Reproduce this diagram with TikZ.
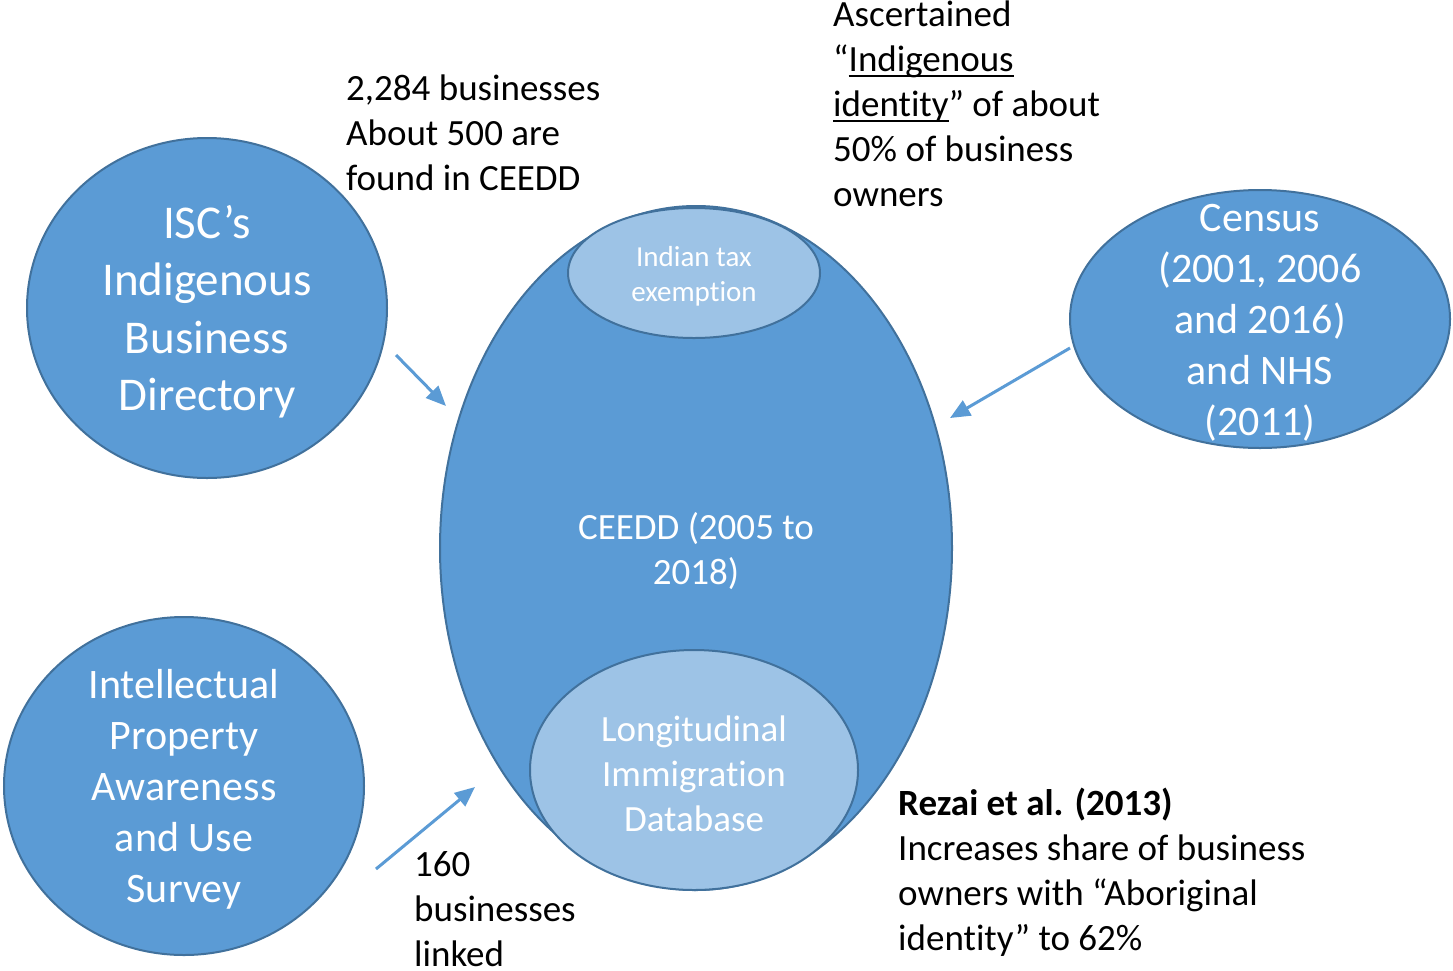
\documentclass[tikz,border=0pt]{standalone}
\usepackage{fontspec}
\setmainfont{Carlito}[Ligatures=NoCommon]
\usetikzlibrary{shapes.geometric,arrows.meta}
\definecolor{blueFill}{RGB}{91,155,213}
\definecolor{blueEdge}{RGB}{65,113,156}
\definecolor{blueLight}{RGB}{157,195,230}
% underline with a heavier rule
\newcommand\ulthick[1]{\setbox0\hbox{#1}\rlap{\raisebox{-6pt}{\rule{\wd0}{2.2pt}}}\box0}
\begin{document}
\begin{tikzpicture}[x=1pt,y=-1pt,
  blob/.style={ellipse, draw=blueEdge, line width=2pt, fill=blueFill, inner sep=0pt},
  subblob/.style={ellipse, draw=blueEdge, line width=2pt, fill=blueLight, inner sep=0pt},
  intext/.style={text=white, align=center, inner sep=0pt, yshift=-3.5pt},
  note/.style={text=black, align=left, inner sep=0pt, anchor=base west,
    font=\fontsize{37}{45}\selectfont},
  link/.style={draw=blueFill, line width=3pt, -{Triangle[length=20pt,width=17pt]}}]
\useasboundingbox (0,0) rectangle (1453,970);

% central data set with its two subsets
\node[blob, minimum width=512pt, minimum height=684pt] (ceedd) at (696,548) {};
\node[subblob, minimum width=252pt, minimum height=130pt] (tax) at (694,273) {};
\node[subblob, minimum width=328pt, minimum height=240pt] (lid) at (694,770) {};
\node[intext, font=\fontsize{37}{45}\selectfont] at (ceedd) {CEEDD (2005 to\\2018)};
\node[intext, font=\fontsize{29}{35}\selectfont] at (tax) {Indian tax\\exemption};
\node[intext, font=\fontsize{37}{45}\selectfont] at (lid) {Longitudinal\\Immigration\\Database};

% linked sources
\node[blob, minimum width=360pt, minimum height=340pt] (isc) at (207,308) {};
\node[intext, font=\fontsize{47}{57.5}\selectfont] at (isc) {ISC’s\\Indigenous\\Business\\Directory};
\node[blob, minimum width=360pt, minimum height=338pt] (ipaus) at (184,786) {};
\node[intext, font=\fontsize{42}{51}\selectfont] at (ipaus) {Intellectual\\Property\\Awareness\\and Use\\Survey};
\node[blob, minimum width=380pt, minimum height=258pt] (census) at (1260,319) {};
\node[intext, font=\fontsize{42}{51}\selectfont] at (census) {Census\\(2001, 2006\\and 2016)\\and NHS\\(2011)};

% connector ends
\coordinate (iscOut) at (396,355);
\coordinate (iscIn) at (446,406);
\coordinate (censusOut) at (1070,348);
\coordinate (censusIn) at (950,418);
\coordinate (ipausOut) at (376,869);
\coordinate (ipausIn) at (475,787);
\draw[link] (iscOut) -- (iscIn);
\draw[link] (censusOut) -- (censusIn);
\draw[link] (ipausOut) -- (ipausIn);

% annotations (anchored at the baseline of their last line)
\node[note] (n1) at (346,190) {2,284 businesses\\About 500 are\\found in CEEDD};
\node[note] (n2) at (833,206) {Ascertained\\“\ulthick{Indigenous}\\\ulthick{identity}” of about\\50\% of business\\owners};
\node[note] (n3) at (414,966) {160\\businesses\\linked};
\node[note] (n4) at (898,950) {\textbf{Rezai et al. (2013)}\\Increases share of business\\owners with “Aboriginal\\identity” to 62\%};
\end{tikzpicture}
\end{document}
